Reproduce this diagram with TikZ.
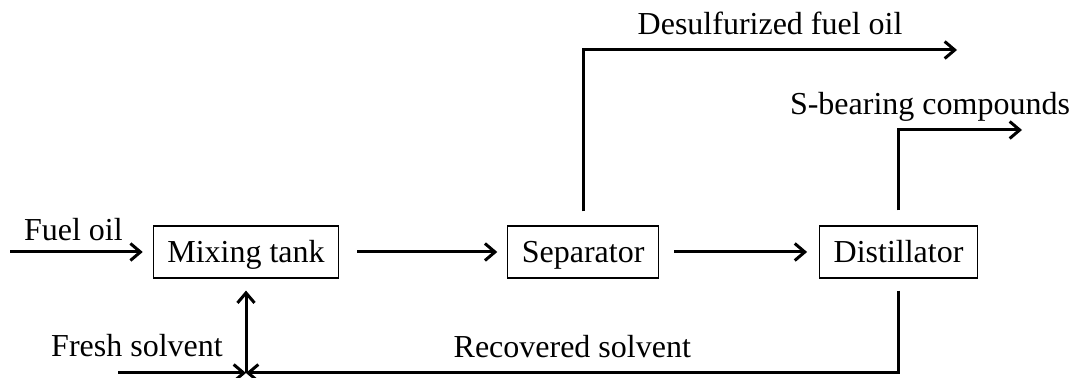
\documentclass[tikz,border=0pt]{standalone}
\usepackage{fontspec}
\setmainfont{Liberation Serif}
\usetikzlibrary{arrows.meta,positioning}
\tikzset{
  >={Straight Barb[length=5pt,width=8.5pt]},
  every node/.style={font=\fontsize{16}{19}\selectfont},
  unit/.style={draw,line width=0.6pt,minimum height=26pt,inner xsep=7pt,text height=12pt,text depth=1pt},
  flow/.style={->,line width=1.5pt},
  stream/.style={inner sep=0pt,anchor=base},
}

\begin{document}
\begin{tikzpicture}[x=0.5pt,y=-0.5pt]
\useasboundingbox (0,0) rectangle (1075,378);

\node[unit] (mix) at (246,252) {Mixing tank};
\node[unit,right=84pt of mix] (sep) {Separator};
\node[unit,right=80pt of sep] (dist) {Distillator};

\coordinate (feed) at (10,252);
\coordinate (fresh) at (118,373);
\coordinate (join) at (mix.south |- fresh);
\coordinate (desulf) at (957,50);
\coordinate (sulfur) at (1022,130);

\draw[flow,shorten >=5pt] (feed) -- node[stream,xshift=-4pt,yshift=5.5pt] (fuellbl) {Fuel oil} (mix);
\draw[flow,shorten <=9pt,shorten >=5pt] (mix) -- (sep);
\draw[flow,shorten <=7.5pt,shorten >=6pt] (sep) -- (dist);

\draw[flow,shorten <=7pt] (sep.north) |- node[stream,pos=.75,yshift=7.5pt] (desulflbl) {Desulfurized fuel oil} (desulf);
\draw[flow,shorten <=7.5pt] (dist.north) |- (sulfur);
\node[stream] (sulfurlbl) at (930,115) {S-bearing compounds};

\draw[flow,shorten <=6pt] (dist.south) |- node[stream,pos=.75,yshift=7.5pt] (reclbl) {Recovered solvent} (join);
\draw[flow] (fresh) -- (join);
\node[stream] (freshlbl) at (137,357) {Fresh solvent};
\draw[flow,shorten >=6pt] (join) -- (mix.south);

\end{tikzpicture}
\end{document}
